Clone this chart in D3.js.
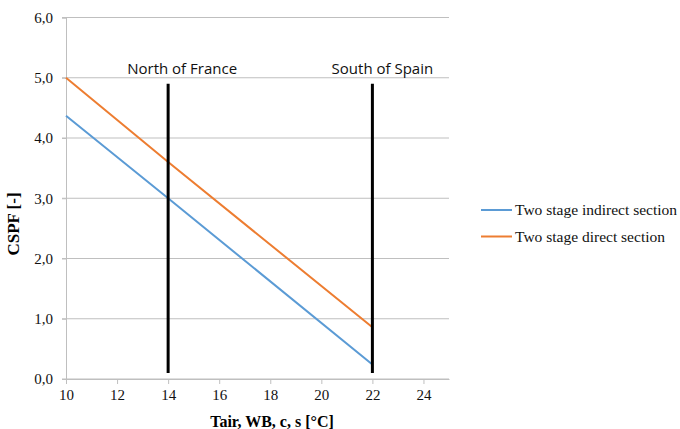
<!DOCTYPE html>
<meta charset="utf-8">
<head>
    <title></title>
    <script src="https://cdn.jsdelivr.net/npm/d3@7"></script>
</head>
<style>
    body{ margin:0; background:#fff; }
    text{ font-family: "Liberation Serif", "Times New Roman", serif; }
    .tick text{ font-size:15px; fill:#111; }
    .region{ font-family: "Open Sans", "Liberation Sans", sans-serif; font-size:15px; fill:#111; }
</style>
<svg width="680" height="429"></svg>
<script>
    // values
    var temps = [10, 14, 22],
        indirect = [4.37, 3.0, 0.24],
        direct = [5.0, 3.6, 0.86],
        xTicks = [10, 12, 14, 16, 18, 20, 22, 24],
        yTicks = [0, 1, 2, 3, 4, 5, 6],
        sites = ['North of France', 'South of Spain'],
        siteTemps = [14, 22],
        siteRange = [0.1, 4.9];

    var series = [
        {name: 'Two stage indirect section', values: indirect, color: '#5b9bd5'},
        {name: 'Two stage direct section', values: direct, color: '#ed7d31'}
    ];

    var svg = d3.select('svg');

    var x = d3.scaleLinear().domain([10, 25]).range([66, 449]),
        y = d3.scaleLinear().domain([0, 6]).range([379, 17.5]);

    // grid
    svg.append('g').selectAll('line').data(yTicks).enter().append('line')
        .attr('x1', x(10) - 4).attr('x2', x(25))
        .attr('y1', function(d){ return y(d); }).attr('y2', function(d){ return y(d); })
        .style('stroke', '#bfbfbf').style('stroke-width', 1);

    // y axis
    var yAxis = svg.append('g').attr('transform', 'translate(' + x(10) + ',0)')
        .call(d3.axisLeft(y).tickValues(yTicks).tickSize(4).tickPadding(9)
            .tickFormat(function(d){ return d.toFixed(1).replace('.', ','); }));
    yAxis.select('.domain').style('stroke', '#bfbfbf');
    yAxis.selectAll('.tick line').style('stroke', '#bfbfbf');

    // x axis
    var xAxis = svg.append('g').attr('transform', 'translate(0,' + y(0) + ')')
        .call(d3.axisBottom(x).tickValues(xTicks).tickSize(5).tickPadding(5).tickSizeOuter(0));
    xAxis.select('.domain').style('stroke', '#bfbfbf');
    xAxis.selectAll('.tick line').style('stroke', '#bfbfbf');

    // axis titles
    svg.append('text').attr('x', 272).attr('y', 427)
        .attr('text-anchor', 'middle').style('font-size', '16px').style('font-weight', 'bold')
        .text('Tair, WB, c, s [°C]');
    svg.append('text').attr('transform', 'translate(19,224) rotate(-90)')
        .attr('text-anchor', 'middle').style('font-size', '17px').style('font-weight', 'bold')
        .text('CSPF [-]');

    // series
    var line = d3.line()
        .x(function(d, i){ return x(temps[i]); })
        .y(function(d){ return y(d); });

    svg.append('g').selectAll('path').data(series).enter().append('path')
        .attr('d', function(d){ return line(d.values); })
        .style('fill', 'none')
        .style('stroke', function(d){ return d.color; })
        .style('stroke-width', 2);

    // site markers
    var site = svg.append('g').selectAll('g').data(sites).enter().append('g');
    site.append('line')
        .attr('x1', function(d, i){ return x(siteTemps[i]); })
        .attr('x2', function(d, i){ return x(siteTemps[i]); })
        .attr('y1', y(siteRange[1])).attr('y2', y(siteRange[0]))
        .style('stroke', '#000').style('stroke-width', 3);
    site.append('text').attr('class', 'region')
        .attr('x', function(d, i){ return x(siteTemps[i]) + (i == 0 ? 14 : 10); })
        .attr('y', 74)
        .attr('text-anchor', 'middle')
        .text(function(d){ return d; });

    // legend
    var legend = svg.append('g').selectAll('g').data(series).enter().append('g')
        .attr('transform', function(d, i){ return 'translate(481,' + (210 + i * 26.5) + ')'; });
    legend.append('line').attr('x1', 0).attr('x2', 31)
        .style('stroke', function(d){ return d.color; }).style('stroke-width', 2);
    legend.append('text').attr('x', 34).attr('y', 5)
        .style('font-size', '15.5px').style('fill', '#111')
        .text(function(d){ return d.name; });
</script>
